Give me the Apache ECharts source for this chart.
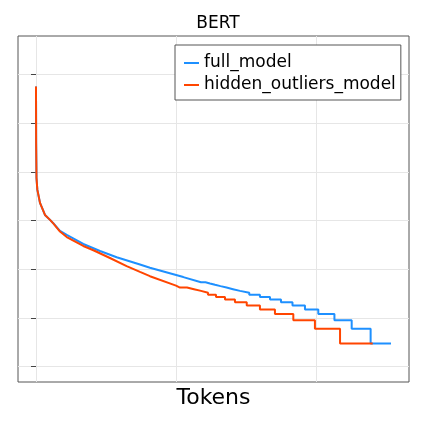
<!DOCTYPE html>
<html>
<head>
<meta charset="utf-8">
<script src="https://cdn.jsdelivr.net/npm/echarts@6/dist/echarts.min.js"></script>
<style>
  html, body { margin: 0; padding: 0; background: #fff; }
  #chart { width: 423px; height: 423px; }
</style>
</head>
<body>
<div id="chart"></div>
<script>
// token rank vs count (log y)
var blueHeadRank  = [0, 10, 35, 95, 285, 640, 1000, 1230, 1710, 2190, 3370, 4560, 5750, 7410, 8120, 10500];
var blueHeadCount = [561000, 40000, 7500, 4300, 2300, 1300, 1030, 880, 611, 506, 330, 237, 176, 125, 107, 69];
var blueStepStart = [11760, 12080, 12400, 12760, 13150, 13580, 14040, 14540, 15200, 15960, 16680, 17460, 18280, 19170, 20120, 21270, 22500, 23850];
var blueStepCount = [54, 51, 48, 45, 42, 39, 36, 33, 30, 27, 24, 21, 18, 15, 12, 9, 6, 3];
var blueEnd = 25300;

var redHeadRank  = [0, 10, 35, 95, 285, 640, 1000, 1230, 1710, 2190, 3370, 4090, 5270, 6460, 7410, 8120, 9980];
var redHeadCount = [561000, 40000, 7500, 4300, 2300, 1300, 1030, 870, 592, 457, 300, 245, 170, 116, 88, 72, 46];
var redStepStart = [10260, 10760, 11260, 11760, 12260, 12830, 13470, 14180, 15020, 15960, 17030, 18340, 19880, 21670];
var redStepCount = [42, 39, 36, 33, 30, 27, 24, 21, 18, 15, 12, 9, 6, 3];
var redEnd = 24000;

var xGridTicks = [0, 20000];
var yDecades = [1, 1000000];

function buildLine(ranks, counts, starts, levels, end) {
    var pts = [];
    for (var i = 0; i < ranks.length; i++) {
        pts.push([ranks[i], counts[i]]);
    }
    for (var j = 0; j < starts.length; j++) {
        var x1 = j + 1 < starts.length ? starts[j + 1] : end;
        pts.push([starts[j], levels[j]]);
        pts.push([x1, levels[j]]);
    }
    return pts;
}

var font = 'DejaVu Sans';
var gridColor = '#e6e6e6';

var option = {
    animation: false,
    title: {
        text: 'BERT',
        left: 213,
        top: 10,
        textAlign: 'center',
        textStyle: { fontSize: 17, fontWeight: 'normal', fontFamily: font, color: '#000' }
    },
    legend: {
        data: ['full_model', 'hidden_outliers_model'],
        orient: 'vertical',
        left: 175,
        top: 45,
        padding: [8, 5, 5, 9],
        itemGap: 2,
        itemWidth: 15,
        itemHeight: 2,
        icon: 'rect',
        borderColor: '#555',
        borderWidth: 1,
        backgroundColor: '#fff',
        textStyle: { fontSize: 17, fontFamily: font, color: '#000', lineHeight: 20 }
    },
    grid: [
        { left: 18, right: 14, top: 74.3, bottom: 56.3 },
        { left: 36, right: 106.3, top: 36, bottom: 41 },
        { left: 18, right: 14, top: 36, bottom: 41, show: true, borderColor: '#555', borderWidth: 1, backgroundColor: 'transparent' }
    ],
    xAxis: [
        { gridIndex: 0, type: 'value', min: -1283, max: 26585, show: false },
        {
            gridIndex: 1, type: 'value', min: xGridTicks[0], max: xGridTicks[1], interval: 10000,
            axisLine: { show: false }, axisTick: { show: false }, axisLabel: { show: false },
            splitLine: { show: true, lineStyle: { color: gridColor, width: 1 } }
        },
        {
            gridIndex: 2, type: 'value', min: 0, max: 1,
            axisLine: { show: false }, axisTick: { show: false }, axisLabel: { show: false },
            splitLine: { show: false },
            name: 'Tokens', nameLocation: 'middle', nameGap: 5,
            nameTextStyle: { fontSize: 22, fontFamily: font, color: '#000' }
        }
    ],
    yAxis: [
        {
            gridIndex: 0, type: 'log', logBase: 10, min: yDecades[0], max: yDecades[1], splitNumber: 6,
            axisLine: { show: false },
            axisTick: { show: true, inside: false, length: 5, lineStyle: { color: '#444' } },
            axisLabel: { show: false },
            splitLine: { show: true, lineStyle: { color: gridColor, width: 1 } }
        },
        { gridIndex: 1, type: 'value', min: 0, max: 1, show: false },
        { gridIndex: 2, type: 'value', min: 0, max: 1, show: false }
    ],
    series: [
        {
            name: 'full_model',
            type: 'line',
            xAxisIndex: 0, yAxisIndex: 0,
            showSymbol: false, symbol: 'none',
            color: '#1E90FF',
            lineStyle: { width: 2, color: '#1E90FF' },
            data: buildLine(blueHeadRank, blueHeadCount, blueStepStart, blueStepCount, blueEnd)
        },
        {
            name: 'hidden_outliers_model',
            type: 'line',
            xAxisIndex: 0, yAxisIndex: 0,
            showSymbol: false, symbol: 'none',
            color: '#FF4500',
            lineStyle: { width: 2, color: '#FF4500' },
            data: buildLine(redHeadRank, redHeadCount, redStepStart, redStepCount, redEnd)
        }
    ]
};

var myChart = echarts.init(document.getElementById('chart'));
myChart.setOption(option);
</script>
</body>
</html>
